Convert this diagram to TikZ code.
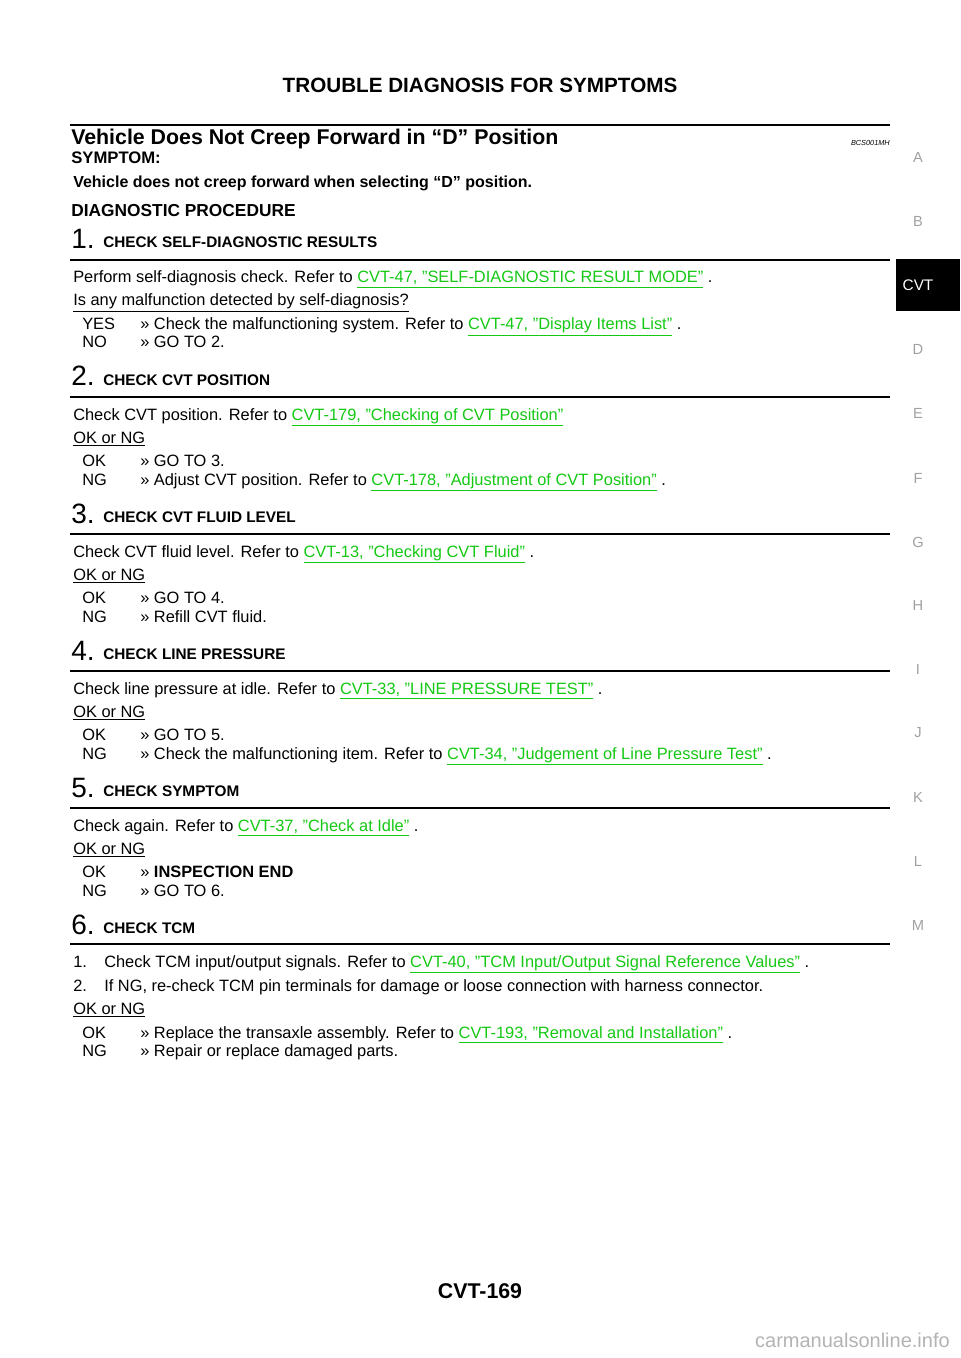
\documentclass[tikz,border=0pt]{standalone}
\usepackage{fontspec}
\setmainfont{Liberation Sans}
\definecolor{lg}{RGB}{20,200,20}
\definecolor{sidegray}{RGB}{160,160,160}
\newcommand{\lnk}[1]{{\color{lg}\underline{#1}}}
\begin{document}
\begin{tikzpicture}[x=0.75pt,y=-0.75pt,
  txt/.style={anchor=base west,inner sep=0pt,font=\fontsize{12.3}{14}\selectfont},
  hd/.style={anchor=base west,inner sep=0pt,font=\bfseries\fontsize{11.5}{13}\selectfont},
  num/.style={anchor=base west,inner sep=0pt,font=\fontsize{21}{24}\selectfont},
  side/.style={inner sep=0pt,text=sidegray,font=\fontsize{11}{13}\selectfont},
  rul/.style={line width=0.8pt}]
\useasboundingbox (0,0) rectangle (960,1358);
\node[inner sep=0pt,font=\bfseries\fontsize{15.5}{18}\selectfont] (hdr) at (480,85) {TROUBLE DIAGNOSIS FOR SYMPTOMS};
\draw[line width=1.8pt] (70,125) coordinate (t1) -- (890,125) coordinate (t2);
\node[anchor=base west,inner sep=0pt,font=\bfseries\fontsize{16}{18}\selectfont] (title) at (71,145) {Vehicle Does Not Creep Forward in “D” Position};
\node[anchor=base east,inner sep=0pt,font=\itshape\fontsize{5.5}{6}\selectfont] (code) at (890,146) {BCS001MH};
\node[anchor=base west,inner sep=0pt,font=\bfseries\fontsize{12.5}{14}\selectfont] (symp) at (71,164) {SYMPTOM:};
\node[hd,font=\bfseries\fontsize{12}{14}\selectfont] (sympt) at (73,188) {Vehicle does not creep forward when selecting “D” position.};
\node[anchor=base west,inner sep=0pt,font=\bfseries\fontsize{13}{15}\selectfont] (dp) at (71,217) {DIAGNOSTIC PROCEDURE};
% step 1
\node[num] (n1) at (71,249) {1.};
\node[hd] (h1) at (103,248) {CHECK SELF-DIAGNOSTIC RESULTS};
\draw[rul] (70,260) coordinate (r1a) -- (890,260) coordinate (r1b);
\node[txt] (a1) at (73,283) {Perform self-diagnosis check. Refer to \lnk{CVT-47, "SELF-DIAGNOSTIC RESULT MODE"} .};
\node[txt] (q1) at (73,306) {\underline{Is any malfunction detected by self-diagnosis?}};
\node[txt] (y1) at (82,330) {YES}; \node[txt] (y1b) at (140,330) {>> Check the malfunctioning system. Refer to \lnk{CVT-47, "Display Items List"} .};
\node[txt] (o1) at (82,348) {NO}; \node[txt] (o1b) at (140,348) {>> GO TO 2.};
% step 2
\node[num] (n2) at (71,386) {2.};
\node[hd] (h2) at (103,385) {CHECK CVT POSITION};
\draw[rul] (70,397) coordinate (r2a) -- (890,397) coordinate (r2b);
\node[txt] (a2) at (73,420) {Check CVT position. Refer to \lnk{CVT-179, "Checking of CVT Position"}};
\node[txt] (q2) at (73,443) {\underline{OK or NG}};
\node[txt] (y2) at (82,466) {OK}; \node[txt] (y2b) at (140,466) {>> GO TO 3.};
\node[txt] (o2) at (82,485) {NG}; \node[txt] (o2b) at (140,485) {>> Adjust CVT position. Refer to \lnk{CVT-178, "Adjustment of CVT Position"} .};
% step 3
\node[num] (n3) at (71,523) {3.};
\node[hd] (h3) at (103,522) {CHECK CVT FLUID LEVEL};
\draw[rul] (70,534) coordinate (r3a) -- (890,534) coordinate (r3b);
\node[txt] (a3) at (73,557) {Check CVT fluid level. Refer to \lnk{CVT-13, "Checking CVT Fluid"} .};
\node[txt] (q3) at (73,580) {\underline{OK or NG}};
\node[txt] (y3) at (82,603) {OK}; \node[txt] (y3b) at (140,603) {>> GO TO 4.};
\node[txt] (o3) at (82,622) {NG}; \node[txt] (o3b) at (140,622) {>> Refill CVT fluid.};
% step 4
\node[num] (n4) at (71,660) {4.};
\node[hd] (h4) at (103,659) {CHECK LINE PRESSURE};
\draw[rul] (70,671) coordinate (r4a) -- (890,671) coordinate (r4b);
\node[txt] (a4) at (73,694) {Check line pressure at idle. Refer to \lnk{CVT-33, "LINE PRESSURE TEST"} .};
\node[txt] (q4) at (73,717) {\underline{OK or NG}};
\node[txt] (y4) at (82,740) {OK}; \node[txt] (y4b) at (140,740) {>> GO TO 5.};
\node[txt] (o4) at (82,759) {NG}; \node[txt] (o4b) at (140,759) {>> Check the malfunctioning item. Refer to \lnk{CVT-34, "Judgement of Line Pressure Test"} .};
% step 5
\node[num] (n5) at (71,797) {5.};
\node[hd] (h5) at (103,796) {CHECK SYMPTOM};
\draw[rul] (70,808) coordinate (r5a) -- (890,808) coordinate (r5b);
\node[txt] (a5) at (73,831) {Check again. Refer to \lnk{CVT-37, "Check at Idle"} .};
\node[txt] (q5) at (73,854) {\underline{OK or NG}};
\node[txt] (y5) at (82,877) {OK}; \node[txt] (y5b) at (140,877) {>> \textbf{INSPECTION END}};
\node[txt] (o5) at (82,896) {NG}; \node[txt] (o5b) at (140,896) {>> GO TO 6.};
% step 6
\node[num] (n6) at (71,934) {6.};
\node[hd] (h6) at (103,933) {CHECK TCM};
\draw[rul] (70,944) coordinate (r6a) -- (890,944) coordinate (r6b);
\node[txt] (l1) at (73,967) {1.}; \node[txt] (a6) at (104,967) {Check TCM input/output signals. Refer to \lnk{CVT-40, "TCM Input/Output Signal Reference Values"} .};
\node[txt] (l2) at (73,991) {2.}; \node[txt] (b6) at (104,991) {If NG, re-check TCM pin terminals for damage or loose connection with harness connector.};
\node[txt] (q6) at (73,1014) {\underline{OK or NG}};
\node[txt] (y6) at (82,1038) {OK}; \node[txt] (y6b) at (140,1038) {>> Replace the transaxle assembly. Refer to \lnk{CVT-193, "Removal and Installation"} .};
\node[txt] (o6) at (82,1056) {NG}; \node[txt] (o6b) at (140,1056) {>> Repair or replace damaged parts.};
% footer
\node[inner sep=0pt,font=\bfseries\fontsize{16}{18}\selectfont] (ftr) at (480,1291) {CVT-169};
\node[anchor=east,inner sep=0pt,text=sidegray!80,font=\fontsize{15}{17}\selectfont] (wm) at (950,1340) {carmanualsonline.info};
% side tabs
\fill[black] (896,259) rectangle (960,311);
\node[inner sep=0pt,text=white,font=\fontsize{11.5}{13}\selectfont] (cvt) at (918,285) {CVT};
\node[side] (sA) at (918,157) {A};
\node[side] (sB) at (918,221) {B};
\node[side] (sD) at (918,349) {D};
\node[side] (sE) at (918,413) {E};
\node[side] (sF) at (918,478) {F};
\node[side] (sG) at (918,542) {G};
\node[side] (sH) at (918,605) {H};
\node[side] (sI) at (918,669) {I};
\node[side] (sJ) at (918,733) {J};
\node[side] (sK) at (918,797) {K};
\node[side] (sL) at (918,861) {L};
\node[side] (sM) at (918,925) {M};
\end{tikzpicture}
\end{document}
